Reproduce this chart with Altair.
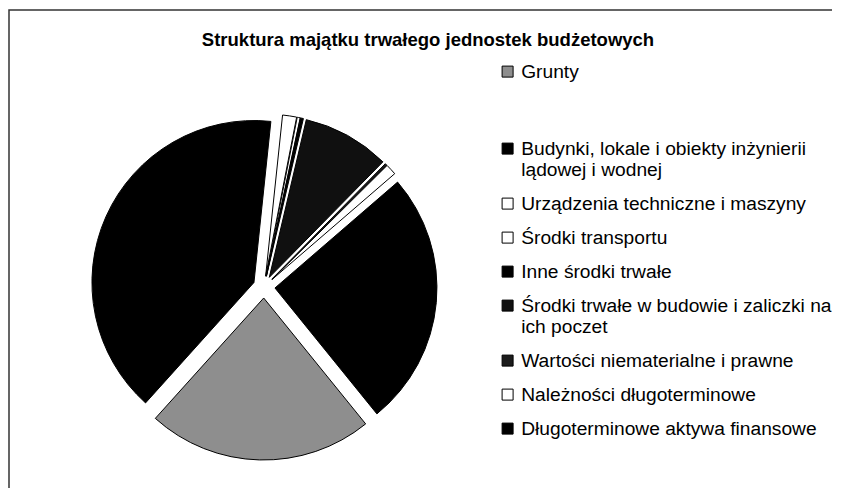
import math
import altair as alt
import pandas as pd

# ---- data ----
categories = [
    "Grunty",
    "Budynki, lokale i obiekty inżynierii\nlądowej i wodnej",
    "Urządzenia techniczne i maszyny",
    "Środki transportu",
    "Inne środki trwałe",
    "Środki trwałe w budowie i zaliczki na\nich poczet",
    "Wartości niematerialne i prawne",
    "Należności długoterminowe",
    "Długoterminowe aktywa finansowe",
]
shares = [22.5, 40.0, 1.4, 0.3, 0.3, 8.7, 0.2, 1.1, 25.5]
colors = ["#8e8e8e", "#000000", "#ffffff", "#ffffff", "#000000",
          "#101010", "#1c1c1c", "#ffffff", "#000000"]
title_text = "Struktura majątku trwałego jednostek budżetowych"

df = pd.DataFrame({"category": categories, "share": shares,
                   "idx": list(range(len(categories)))})

# ---- style / layout ----
START = math.radians(141)      # angle of first slice (clockwise from 12 o'clock)
CX, CY = 255, 277              # pie centre inside the view
EXPLODE = 11                   # explosion distance in px
RADIUS = 162

pie = (
    alt.Chart(df)
    .transform_joinaggregate(total="sum(share)")
    .transform_window(cum="sum(share)", sort=[alt.SortField("idx")], frame=[None, 0])
    .transform_calculate(t0="(datum.cum - datum.share) / datum.total",
                         t1="datum.cum / datum.total")
    .transform_calculate(mid=f"{START} + PI * (datum.t0 + datum.t1)")
    .transform_calculate(dx="sin(datum.mid)", dy="cos(datum.mid)")
    .mark_arc(radius=RADIUS, stroke="black", strokeWidth=1)
    .encode(
        theta=alt.Theta("t0:Q", scale=alt.Scale(domain=[0, 1], range=[START, START + 2 * math.pi])),
        theta2="t1:Q",
        x=alt.X("dx:Q", scale=alt.Scale(domain=[-1, 1], range=[CX - EXPLODE, CX + EXPLODE], nice=False), axis=None),
        y=alt.Y("dy:Q", scale=alt.Scale(domain=[-1, 1], range=[CY + EXPLODE, CY - EXPLODE], nice=False), axis=None),
        color=alt.Color(
            "category:N",
            scale=alt.Scale(domain=categories, range=colors),
            legend=alt.Legend(
                title=None,
                orient="none",
                legendX=489,
                legendY=52,
                padding=0,
                symbolType="square",
                symbolSize=121,
                symbolStrokeColor="black",
                symbolStrokeWidth=1,
                symbolOpacity=1,
                labelFont="Liberation Sans",
                labelFontSize=19.2,
                labelColor="black",
                labelLimit=420,
                labelOffset=4,
                rowPadding=14,
                labelExpr="datum.label == 'Grunty' ? ['Grunty', '', ''] : split(datum.label, '\\n')",
            ),
        ),
    )
)

chart = (
    pie.properties(
        width=832,
        height=487,
        padding={"left": 1, "top": 2, "right": -9, "bottom": -9},
        autosize=alt.AutoSizeParams(type="none"),
        title=alt.Title(
            title_text,
            font="Liberation Sans",
            fontSize=18.5,
            fontWeight="bold",
            color="black",
            anchor="middle",
            dx=3,
            offset=-54,
            baseline="alphabetic",
        ),
        background="white",
    )
    .configure_view(stroke="#333333", strokeWidth=1.5)
)

chart.save("out.html", embed_options={"renderer": "svg", "actions": False})
